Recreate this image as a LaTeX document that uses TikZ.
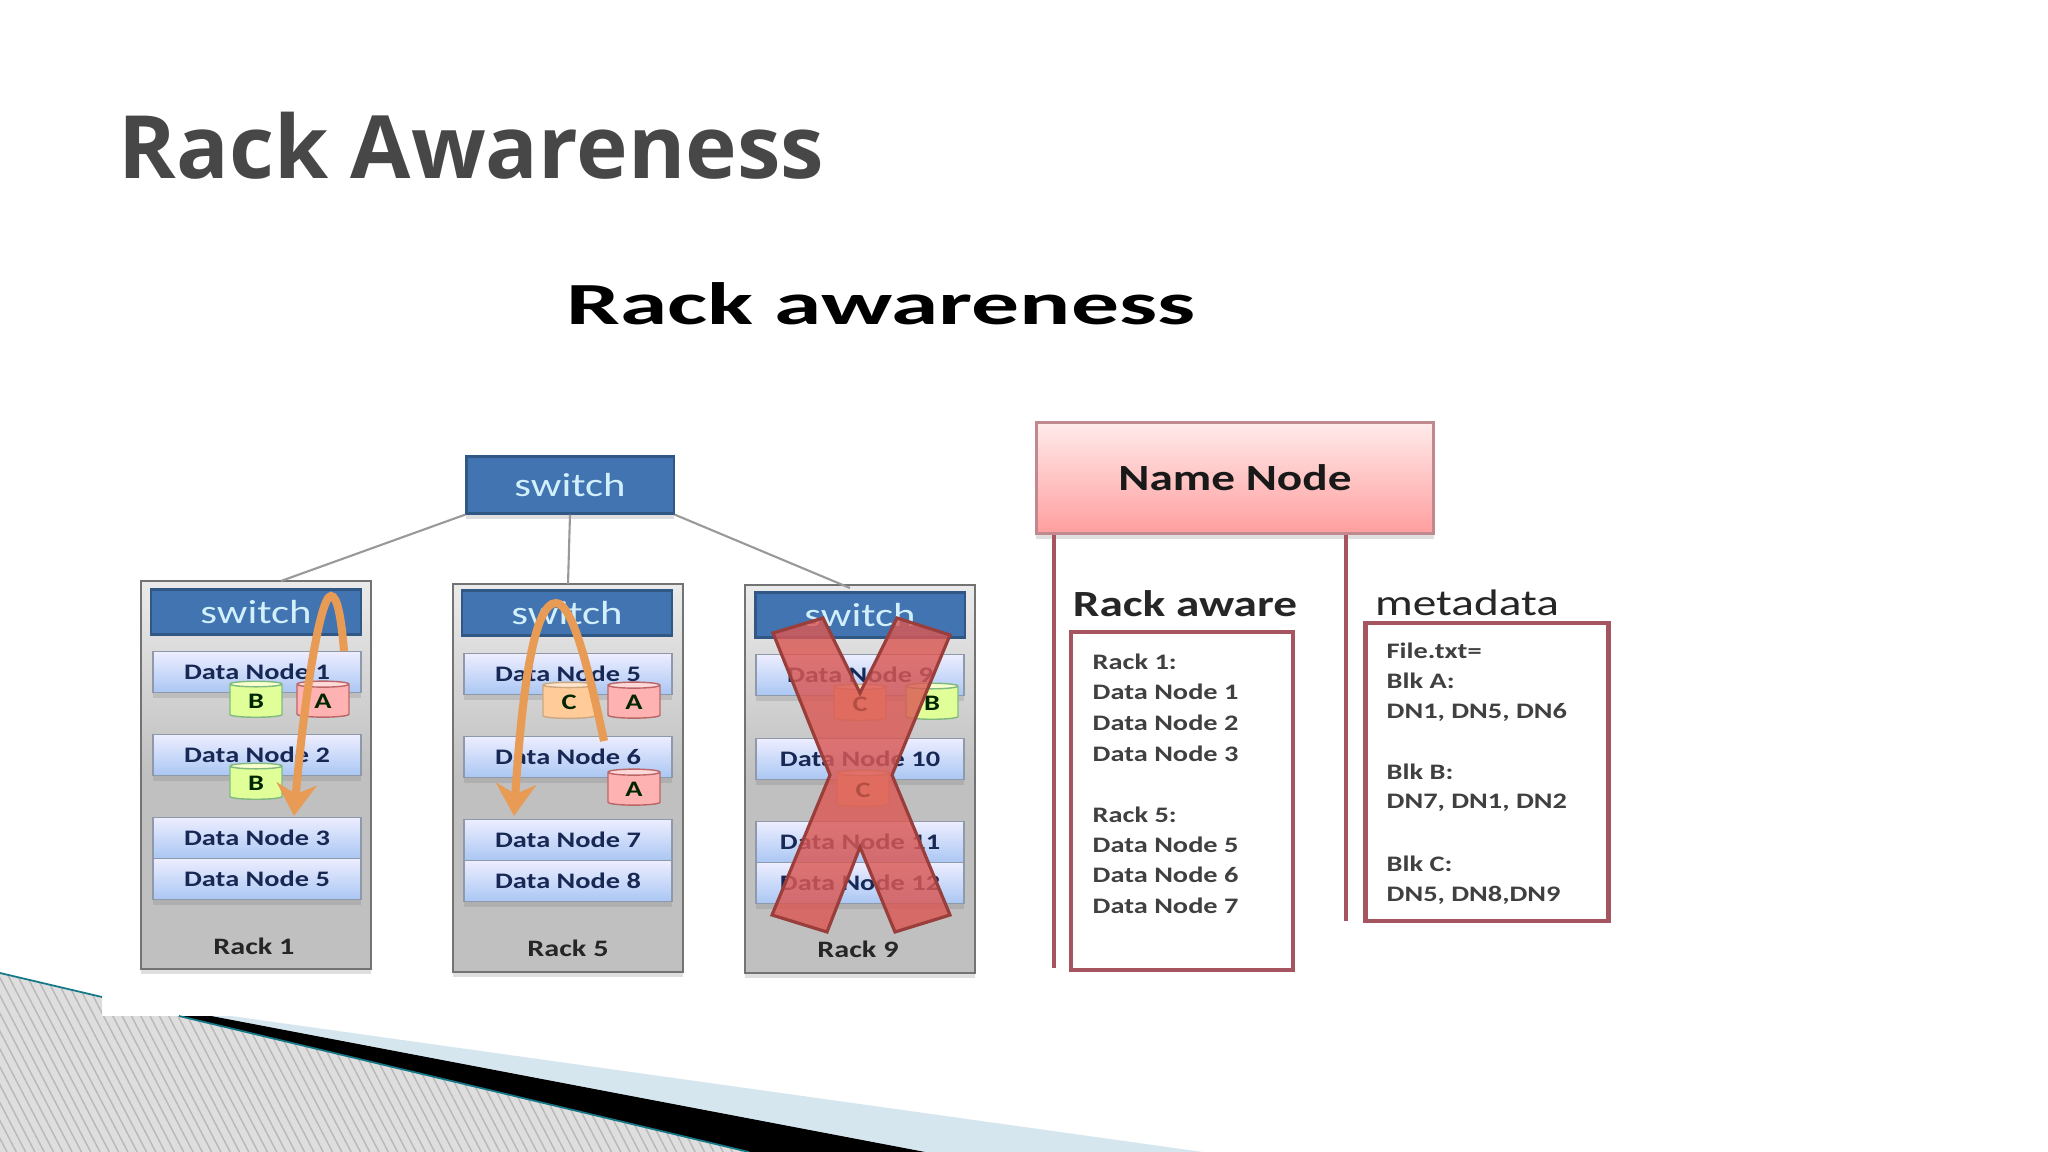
\documentclass[tikz,border=0pt]{standalone}
\usepackage{fontspec}
\setmainfont[FakeStretch=1.28]{Carlito}
\newfontfamily\titlefont{Open Sans}
\usetikzlibrary{calc,arrows.meta,shapes.geometric,shadows}

\definecolor{rackgray}{RGB}{192,192,192}
\definecolor{switchblue}{RGB}{66,116,178}
\definecolor{dnblue}{RGB}{170,199,243}
\definecolor{dntext}{RGB}{24,40,84}
\definecolor{boxred}{RGB}{165,85,95}
\definecolor{xred}{RGB}{218,88,84}
\definecolor{tealline}{RGB}{20,120,135}
\definecolor{paleblue}{RGB}{214,230,239}
\definecolor{floworange}{RGB}{232,155,85}

\tikzset{
    softshadow/.style={drop shadow={shadow xshift=0pt,shadow yshift=-0.5mm,opacity=0.25}},
    rack/.style={draw=black!55,line width=0.7pt,top color=black!8,bottom color=rackgray,middle color=rackgray,
        minimum width=2.3cm,minimum height=3.88cm,inner sep=0pt,softshadow},
    switchbox/.style={draw=switchblue!75!black,line width=0.6pt,fill=switchblue,text=cyan!18!white,
        font=\fontsize{9.5}{10}\selectfont,inner sep=0pt},
    datanode/.style={draw=dnblue!55!black!70,line width=0.4pt,top color=blue!7,bottom color=dnblue,text=dntext,
        minimum width=2.08cm,minimum height=0.41cm,inner sep=0pt,font=\fontsize{6.3}{8}\selectfont\bfseries,softshadow},
    cyl/.style={cylinder,shape border rotate=90,aspect=0.35,cylinder uses custom fill,
        minimum width=0.52cm,minimum height=0.36cm,inner sep=0pt,text=black!85!green,
        font=\fontsize{6.3}{8}\selectfont\bfseries},
    cylA/.style={cyl,draw=red!55!black!60,cylinder body fill=red!30,cylinder end fill=red!15},
    cylB/.style={cyl,draw=green!45!black!50,cylinder body fill=green!30!yellow!40,cylinder end fill=green!15!yellow!20},
    cylC/.style={cyl,draw=orange!60!black!50,cylinder body fill=orange!40,cylinder end fill=orange!20},
    flow/.style={draw=floworange,line width=2.3pt,-{Stealth[length=3.2mm,width=4mm,inset=1mm]}},
    replabel/.style={font=\fontsize{6.7}{8}\selectfont\bfseries,text=black!85},
    redbox/.style={draw=boxred,line width=1.3pt,inner sep=0pt},
    listline/.style={anchor=west,inner sep=0pt,text=black!75,font=\fontsize{6.3}{8}\selectfont\bfseries},
    headline/.style={inner sep=0pt,text=black!85,font=\fontsize{10.5}{12}\selectfont},
}

\begin{document}
\begin{tikzpicture}[x=0.01cm,y=-0.01cm]
    \useasboundingbox (0,0) rectangle (2048,1152);

    % slide decoration
    \fill[paleblue] (179,1016) -- (231,1016) -- (1203,1152) -- (749,1152) -- cycle;
    \fill[black] (179,1016) -- (211,1016) -- (925,1152) -- (749,1152) -- cycle;
    \begin{scope}
        \clip (0,973) -- (102,997) -- (102,1016) -- (179,1016) -- (749,1152) -- (0,1152) -- cycle;
        \fill[black!13] (0,960) rectangle (760,1152);
        \foreach \i in {-12,...,85} {
            \draw[black!28,line width=0.4pt] (9.3*\i,960) -- (9.3*\i+100,1152);
        }
    \end{scope}
    \draw[tealline,line width=0.5pt] (0,973) -- (102,997);
    \draw[tealline,line width=0.5pt] (179,1016) -- (749,1152);

    % titles
    \node[anchor=west,inner sep=0pt,text=black!72,font=\fontsize{24.85}{30}\titlefont\bfseries] (title) at (118,146) {Rack Awareness};
    \node[inner sep=0pt,font=\fontsize{17}{20}\selectfont\bfseries] (subtitle) at (881,304) {\scalebox{1.25}[1]{Rack awareness}};

    % racks
    \node[rack] (rack1) at (256,775) {};
    \node[rack] (rack5) at (568,778) {};
    \node[rack] (rack9) at (860,779) {};
    \node[switchbox,minimum width=2.07cm,minimum height=0.57cm,softshadow] (swtop) at (570,485) {switch};
    \coordinate (up1) at (281,581);
    \coordinate (up5) at (568,584);
    \coordinate (up9) at (850,588);
    \draw[black!40,line width=0.6pt] (swtop.south west) -- (up1);
    \draw[black!40,line width=0.6pt] (swtop.south) -- (up5);
    \draw[black!40,line width=0.6pt] (swtop.south east) -- (up9);

    \node[switchbox,minimum width=2.09cm,minimum height=0.45cm] (sw1) at (256,612) {switch};
    \node[switchbox,minimum width=2.09cm,minimum height=0.45cm] (sw5) at (567,613) {switch};
    \node[switchbox,minimum width=2.09cm,minimum height=0.45cm] (sw9) at (860,615) {switch};

    % data nodes
    \node[datanode] (dn1) at (257,672) {Data Node 1};
    \node[datanode] (dn2) at (257,755) {Data Node 2};
    \node[datanode] (dn3) at (257,838) {Data Node 3};
    \node[datanode] (dn3b) at (257,879) {Data Node 5};
    \node[datanode] (dn5) at (568,674) {Data Node 5};
    \node[datanode] (dn6) at (568,757) {Data Node 6};
    \node[datanode] (dn7) at (568,840) {Data Node 7};
    \node[datanode] (dn8) at (568,881) {Data Node 8};
    \node[datanode] (dn9) at (860,675) {Data Node 9};
    \node[datanode] (dn10) at (860,759) {Data Node 10};
    \node[datanode] (dn11) at (860,842) {Data Node 11};
    \node[datanode] (dn12) at (860,883) {Data Node 12};

    % blocks
    \node[cylB] (b1) at (256,701) {B};
    \node[cylA] (a1) at (323,701) {A};
    \node[cylB] (b2) at (256,783) {B};
    \node[cylC] (c5) at (569,702) {C};
    \node[cylA] (a5) at (634,702) {A};
    \node[cylA] (a6) at (634,789) {A};
    \node[cylC] (c9) at (860,704) {C};
    \node[cylB] (b9) at (932,703) {B};
    \node[cylC] (c10) at (863,790) {C};

    \node[replabel] (r1) at (254,946) {Rack 1};
    \node[replabel] (r5) at (568,948) {Rack 5};
    \node[replabel] (r9) at (858,949) {Rack 9};

    % replica paths
    \draw[flow] (344,651) .. controls (341,615) and (337,596) .. (331,596) .. controls (320,596) and (304,700) .. (294,816);
    \draw[flow] (604,741) .. controls (592,685) and (574,603) .. (556,603) .. controls (534,603) and (522,690) .. (514,816);

    % cross over rack 9
    \draw[draw=xred!70!black,line width=0.9pt,fill=xred,fill opacity=0.82] (773,633) -- (823,618) -- (860,693) -- (897,618)
        -- (950,635) -- (892,775) -- (950,915) -- (895,932) -- (860,847) -- (827,932)
        -- (772,915) -- (830,775) -- cycle;

    % name node side
    \node[draw=boxred!70,line width=0.8pt,top color=red!8,bottom color=red!38,minimum width=3.97cm,minimum height=1.11cm,
        font=\fontsize{10.5}{12}\selectfont\bfseries,text=black!90,inner sep=0pt,softshadow] (nn) at (1235,478) {Name Node};
    \coordinate (bus1) at (1054,968);
    \coordinate (bus2) at (1346,921);
    \draw[boxred,line width=1.2pt] (nn.south west -| bus1) -- (bus1);
    \draw[boxred,line width=1.2pt] (nn.south west -| bus2) -- (bus2);
    \node[headline] (awarehead) at (1185,604) {\bfseries Rack aware};
    \node[headline] (metahead) at (1467,603) {metadata};
    \node[redbox,minimum width=2.22cm,minimum height=3.38cm] (awarebox) at (1182,801) {};
    \node[redbox,minimum width=2.43cm,minimum height=2.98cm] (metabox) at (1487,772) {};

    \node[listline] (l1) at (1092,662) {Rack 1:};
    \node[listline] (l2) at (1092,692) {Data Node 1};
    \node[listline] (l3) at (1092,723) {Data Node 2};
    \node[listline] (l4) at (1092,754) {Data Node 3};
    \node[listline] (l5) at (1092,815) {Rack 5:};
    \node[listline] (l6) at (1092,845) {Data Node 5};
    \node[listline] (l7) at (1092,875) {Data Node 6};
    \node[listline] (l8) at (1092,906) {Data Node 7};

    \node[listline] (m1) at (1386,651) {File.txt=};
    \node[listline] (m2) at (1386,681) {Blk A:};
    \node[listline] (m3) at (1386,712) {DN1, DN5, DN6};
    \node[listline] (m4) at (1386,772) {Blk B:};
    \node[listline] (m5) at (1386,803) {DN7, DN1, DN2};
    \node[listline] (m6) at (1386,864) {Blk C:};
    \node[listline] (m7) at (1386,895) {DN5, DN8,DN9};
\end{tikzpicture}
\end{document}
